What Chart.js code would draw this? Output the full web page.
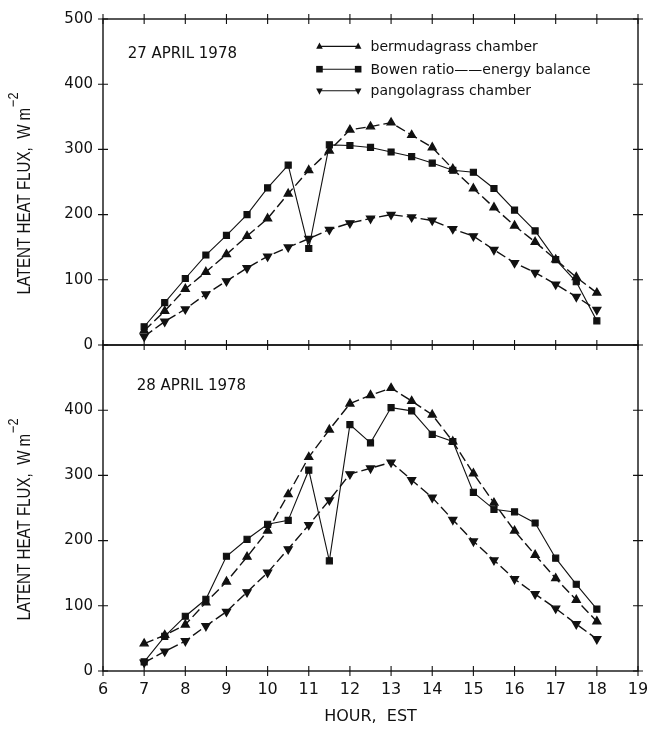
<!DOCTYPE html>
<html>
<head>
<meta charset="utf-8">
<script src="https://cdn.jsdelivr.net/npm/chart.js@4"></script>
<style>
  html, body { margin: 0; padding: 0; background: #fff; }
</style>
</head>
<body>
<canvas id="fluxChart" width="648" height="731"></canvas>
<script>
// Data (W m-2)
const hours = [7, 7.5, 8, 8.5, 9, 9.5, 10, 10.5, 11, 11.5, 12, 12.5, 13, 13.5, 14, 14.5, 15, 15.5, 16, 16.5, 17, 17.5, 18];

// 27 April 1978
const bermuda27 = [22, 52, 86, 112, 139, 167, 194, 232, 268, 298, 330, 335, 341, 322, 303, 270, 240, 211, 183, 158, 131, 104, 80];
const bowen27 = [28, 65, 102, 138, 168, 200, 241, 276, 148, 307, 306, 303, 296, 289, 279, 268, 265, 240, 207, 175, 131, 97, 37];
const pangola27 = [13, 36, 55, 78, 98, 118, 136, 150, 163, 177, 187, 194, 200, 196, 191, 178, 167, 146, 126, 111, 93, 74, 54];

// 28 April 1978
const bermuda28 = [42, 55, 71, 105, 137, 175, 215, 271, 328, 370, 410, 423, 434, 414, 393, 352, 303, 258, 215, 178, 142, 109, 76];
const bowen28 = [14, 53, 84, 110, 176, 202, 225, 231, 308, 169, 378, 350, 404, 399, 363, 352, 274, 248, 244, 227, 173, 133, 95];
const pangola28 = [13, 30, 46, 69, 91, 121, 151, 187, 224, 262, 302, 311, 320, 293, 266, 232, 199, 170, 141, 118, 96, 72, 49];

const xTicks = [6, 7, 8, 9, 10, 11, 12, 13, 14, 15, 16, 17, 18, 19];
const yTicksTop = [0, 100, 200, 300, 400, 500];
const yTicksBottom = [0, 100, 200, 300, 400];

const seriesNames = ["bermudagrass chamber", "Bowen ratio\u2014\u2014energy balance", "pangolagrass chamber"];
const panelLabels = ["27 APRIL 1978", "28 APRIL 1978"];

const INK = "#111";
const tickFont = { family: "'DejaVu Sans', sans-serif", size: 15 };
const narrow = "'Liberation Sans Narrow', 'Liberation Sans', sans-serif";

function pts(values) {
  return values.map((v, i) => ({ x: hours[i], y: v }));
}

function bermuda(values, axis) {
  return {
    label: seriesNames[0], data: pts(values), yAxisID: axis,
    borderColor: INK, backgroundColor: INK, borderWidth: 1.4, borderDash: [10, 4],
    pointStyle: "triangle", pointRadius: 4.5, tension: 0,
  };
}
function bowen(values, axis) {
  return {
    label: seriesNames[1], data: pts(values), yAxisID: axis,
    borderColor: INK, backgroundColor: INK, borderWidth: 1.1,
    pointStyle: "rect", pointRadius: 4.3, tension: 0,
  };
}
function pangola(values, axis) {
  return {
    label: seriesNames[2], data: pts(values), yAxisID: axis,
    borderColor: INK, backgroundColor: INK, borderWidth: 1.4, borderDash: [10, 4],
    pointStyle: "triangle", pointRotation: 180, pointRadius: 4.5, tension: 0,
  };
}

function yAxis(tickList) {
  return {
    type: "linear", position: "left", stack: "panels", stackWeight: 1,
    min: 0, max: 500,
    grid: { display: false, drawTicks: false },
    border: { display: false },
    ticks: {
      color: INK, font: tickFont, padding: 10,
      callback: (v) => (tickList.includes(v) ? String(v) : ""),
    },
    afterBuildTicks: (s) => { s.ticks = yTicksTop.map((v) => ({ value: v })); },
    afterFit: (s) => { s.width = 103; },
  };
}

function marker(ctx, kind, x, y, r) {
  ctx.beginPath();
  if (kind === "sq") {
    ctx.rect(x - r, y - r, 2 * r, 2 * r);
  } else if (kind === "up") {
    ctx.moveTo(x, y - r * 1.2); ctx.lineTo(x + r, y + r * 0.7); ctx.lineTo(x - r, y + r * 0.7);
  } else {
    ctx.moveTo(x, y + r * 1.2); ctx.lineTo(x + r, y - r * 0.7); ctx.lineTo(x - r, y - r * 0.7);
  }
  ctx.closePath();
  ctx.fill();
}

// frame, cross ticks, panel labels, legend and y titles
const decorations = {
  id: "decorations",
  afterDatasetsDraw(chart) {
    const { ctx, scales } = chart;
    const x = scales.x, top = scales.yTop, bot = scales.yBottom;
    const L = x.left, R = x.right;
    ctx.save();
    ctx.strokeStyle = INK;
    ctx.lineWidth = 1.4;
    [top, bot].forEach((s) => ctx.strokeRect(L, s.top, R - L, s.bottom - s.top));

    ctx.lineWidth = 1.1;
    ctx.beginPath();
    const rows = [top.top, top.bottom, bot.bottom];
    xTicks.forEach((h) => {
      const px = x.getPixelForValue(h);
      rows.forEach((py) => { ctx.moveTo(px, py - 5); ctx.lineTo(px, py + 5); });
    });
    [top, bot].forEach((s) => {
      yTicksTop.forEach((v) => {
        const py = s.getPixelForValue(v);
        ctx.moveTo(L - 5, py); ctx.lineTo(L + 5, py);
        ctx.moveTo(R - 5, py); ctx.lineTo(R + 5, py);
      });
    });
    ctx.stroke();

    ctx.fillStyle = INK;
    ctx.font = "15px 'DejaVu Sans', sans-serif";
    ctx.textBaseline = "middle";
    ctx.textAlign = "left";
    ctx.fillText(panelLabels[0], x.getPixelForValue(6.6), top.getPixelForValue(446));
    ctx.fillText(panelLabels[1], x.getPixelForValue(6.82), bot.getPixelForValue(437));

    // legend
    const lx1 = x.getPixelForValue(11.26), lx2 = x.getPixelForValue(12.2), tx = x.getPixelForValue(12.5);
    const ly = [top.getPixelForValue(458), top.getPixelForValue(423), top.getPixelForValue(390)];
    const markers = ["up", "sq", "down"];
    ctx.font = "14px 'DejaVu Sans', sans-serif";
    ly.forEach((py, i) => {
      ctx.lineWidth = 1.1;
      ctx.beginPath(); ctx.moveTo(lx1, py); ctx.lineTo(lx2, py); ctx.stroke();
      [lx1, lx2].forEach((px) => marker(ctx, markers[i], px, py, 3.3));
      ctx.fillText(seriesNames[i], tx, py + 1);
    });

    // y titles
    [top, bot].forEach((s) => {
      ctx.save();
      ctx.translate(25, (s.top + s.bottom) / 2 + 12);
      ctx.rotate(-Math.PI / 2);
      ctx.scale(0.84, 1);
      const main = "LATENT HEAT FLUX,  W m";
      const sup = "\u22122";
      ctx.font = "18px " + narrow;
      const w1 = ctx.measureText(main).width;
      ctx.font = "15px " + narrow;
      const w2 = ctx.measureText(sup).width;
      const start = -(w1 + w2) / 2;
      ctx.textAlign = "left";
      ctx.font = "18px " + narrow;
      ctx.fillText(main, start, 0);
      ctx.font = "15px " + narrow;
      ctx.fillText(sup, start + w1 + 1, -11);
      ctx.restore();
    });
    ctx.restore();
  },
};

const fluxChart = new Chart(document.getElementById("fluxChart"), {
  type: "line",
  data: {
    datasets: [
      bermuda(bermuda27, "yTop"), bowen(bowen27, "yTop"), pangola(pangola27, "yTop"),
      bermuda(bermuda28, "yBottom"), bowen(bowen28, "yBottom"), pangola(pangola28, "yBottom"),
    ],
  },
  options: {
    responsive: false,
    animation: false,
    devicePixelRatio: 1,
    layout: { padding: { left: 0, right: 10, top: 18, bottom: 0 } },
    plugins: { legend: { display: false }, tooltip: { enabled: false } },
    scales: {
      x: {
        type: "linear", min: 6, max: 19,
        grid: { display: false, drawTicks: false },
        border: { display: false },
        ticks: { color: INK, font: { family: "'DejaVu Sans', sans-serif", size: 16 }, padding: 9 },
        afterBuildTicks: (s) => { s.ticks = xTicks.map((v) => ({ value: v })); },
        title: {
          display: true, text: "HOUR,  EST", color: INK,
          font: { family: "'DejaVu Sans', sans-serif", size: 16 },
          padding: { top: 16, bottom: 5 },
        },
        afterFit: (s) => { s.height = 60; s.paddingRight = 0; s.paddingLeft = 0; },
      },
      yBottom: yAxis(yTicksBottom),
      yTop: yAxis(yTicksTop),
    },
  },
  plugins: [decorations],
});
</script>
</body>
</html>
